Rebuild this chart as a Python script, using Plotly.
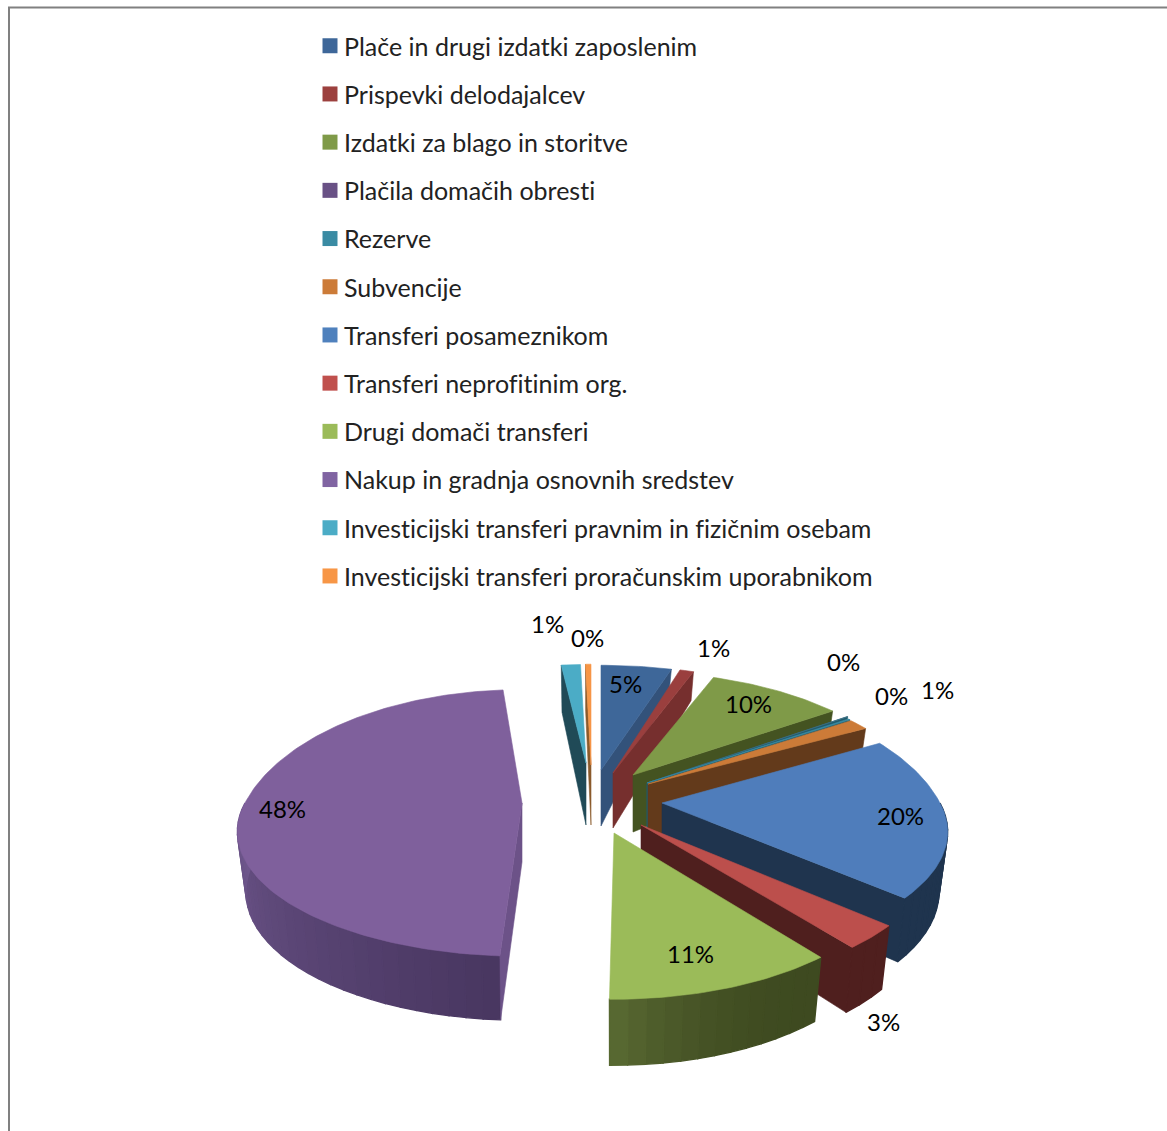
import math
import plotly.graph_objects as go

categories = ["Plače in drugi izdatki zaposlenim", "Prispevki delodajalcev", "Izdatki za blago in storitve",
              "Plačila domačih obresti", "Rezerve", "Subvencije", "Transferi posameznikom",
              "Transferi neprofitinim org.", "Drugi domači transferi", "Nakup in gradnja osnovnih sredstev",
              "Investicijski transferi pravnim in fizičnim osebam", "Investicijski transferi proračunskim uporabnikom"]
values = [4.9, 1.0, 9.6, 0.1, 0.2, 1.4, 19.6, 2.8, 10.6, 48.0, 1.4, 0.4]

swatch = ["#3E6799", "#9C403E", "#7F9A48", "#695185", "#3A8BA3", "#CC7B38",
          "#4F81BD", "#C0504D", "#9BBB59", "#8064A2", "#4BACC6", "#F79646"]
top = ["#3E6799", "#9A3F3E", "#7F9A48", "#3A6F85", "#3A8BA3", "#CC7B38",
       "#4F7DBB", "#BC4F4C", "#9BBB59", "#7F609C", "#4BACC6", "#F79646"]
wall = ["#33527A", "#762F2E", "#445321", "#205A6B", "#205A6B", "#633A1B",
        "#1F344E", "#4F1F1E", "#445321", "#6C5288", "#204A57", "#8B5A2B"]
arc_a = ["#33527A", "#762F2E", "#445321", "#205A6B", "#205A6B", "#633A1B",
         "#1F344E", "#4F1F1E", "#3E4A20", "#483660", "#204A57", "#8B5A2B"]
arc_b = ["#33527A", "#762F2E", "#445321", "#205A6B", "#205A6B", "#633A1B",
         "#1F344E", "#4F1F1E", "#5A6B33", "#70588E", "#204A57", "#8B5A2B"]
arc_pow = [1, 1, 1, 1, 1, 1, 1, 1, 2.5, 1, 1, 1]

# explosion / projection of each slice, in axis units
apex_x = [601, 613, 633, 647, 647, 648, 662, 641, 614, 522, 586, 591]
apex_y = [770, 773, 775, 783, 783, 784, 803, 825, 833, 803, 763, 765]
rx = [292, 278, 278, 278, 278, 278, 278, 284, 278, 277, 278, 278]
ry_back = [133, 136, 131, 137, 133, 133, 143, 130, 131, 144, 125, 128]
ry_front = [125, 125, 125, 125, 125, 125, 119, 126, 128, 118, 125, 125]
d_apex = [56, 55, 57, 57, 57, 57, 57, 57, 57, 59, 62, 60]
d_back = [19, 27, 30, 30, 30, 30, 30, 30, 30, 45, 47, 47]
d_front = [66, 66, 66, 66, 66, 66, 67, 67, 66, 64, 66, 66]
nudge_start = [0, 0, 0, 0, 0, 0, 0, 0, 0, 2.8, 0, 0]
nudge_end = [0, 0, 0, 0, 0, 0, 0, 0, 0, 1.5, 0, 0]
label_x = [625, 713, 748, 843, 891, 937, 900, 883, 690, 282, 547, 587]
label_y = [683, 647, 703, 661, 695, 689, 815, 1021, 953, 808, 623, 637]
draw_order = [10, 11, 0, 1, 2, 3, 4, 5, 6, 7, 8, 9]
FONT = "Lato"


def hex2rgb(c):
    return [int(c[k:k + 2], 16) for k in (1, 3, 5)]


def mix(a, b, f):
    ra, rb = hex2rgb(a), hex2rgb(b)
    return "rgb(%d,%d,%d)" % tuple(round(ra[k] + (rb[k] - ra[k]) * f) for k in range(3))


def rim(i, t):
    sx, cy = math.sin(t), math.cos(t)
    s = 1 / (1 + 0.27 * cy) if cy > 0 else 1 / (1 + 0.23 * cy)
    ry = ry_back[i] if cy > 0 else ry_front[i]
    return apex_x[i] + rx[i] * sx * s, apex_y[i] - ry * cy * s, cy


def drop(i, x, y, cy):
    d = d_apex[i] + (d_back[i] - d_apex[i]) * cy if cy > 0 else d_apex[i] + (d_front[i] - d_apex[i]) * (-cy)
    return apex_x[i] + (x - apex_x[i]) * 0.97, y + d


def poly(fig, xs, ys, color, width=0.6):
    fig.add_trace(go.Scatter(x=xs + xs[:1], y=ys + ys[:1], mode="lines", fill="toself", fillcolor=color,
                             line=dict(color=color, width=width), hoverinfo="skip", showlegend=False))


fig = go.Figure()
total = sum(values)
edges = [0.0]
for v in values:
    edges.append(edges[-1] + v / total * 2 * math.pi)

for i in draw_order:
    t1 = edges[i] + math.radians(nudge_start[i])
    t2 = edges[i + 1] + math.radians(nudge_end[i])
    ax, ay = apex_x[i], apex_y[i]
    bx, by = ax, ay + d_apex[i]
    # outer wall, front part only
    lo, hi = max(t1, math.pi / 2), min(t2, 3 * math.pi / 2)
    if hi > lo:
        n = max(2, int((hi - lo) / 0.05))
        for k in range(n):
            a = lo + (hi - lo) * k / n
            b = lo + (hi - lo) * (k + 1) / n
            xa, ya, ca = rim(i, a)
            xc, yc, cc = rim(i, b)
            xa2, ya2 = drop(i, xa, ya, ca)
            xc2, yc2 = drop(i, xc, yc, cc)
            poly(fig, [xa, xc, xc2, xa2], [ya, yc, yc2, ya2],
                 mix(arc_a[i], arc_b[i], ((k + 0.5) / n) ** arc_pow[i]), 1.4)
    # radial walls that face the viewer
    for t, vis in ((t1, math.sin(t1) < 0), (t2, math.sin(t2) > 0)):
        if vis:
            x, y, c = rim(i, t)
            xb, yb = drop(i, x, y, c)
            poly(fig, [ax, x, xb, bx], [ay, y, yb, by], wall[i])
    # top face
    n = max(3, int((t2 - t1) / 0.02))
    pts = [rim(i, t1 + (t2 - t1) * k / n) for k in range(n + 1)]
    poly(fig, [ax] + [p[0] for p in pts], [ay] + [p[1] for p in pts], top[i])

# legend entries
for i, name in enumerate(categories):
    fig.add_trace(go.Scatter(x=[None], y=[None], mode="markers", name=name, legendgroup=name,
                             marker=dict(symbol="square", size=15, color=swatch[i])))

for i, v in enumerate(values):
    fig.add_annotation(x=label_x[i], y=label_y[i], text=f"{round(v)}%", showarrow=False,
                       font=dict(family=FONT, size=24, color="#000000"))

fig.add_shape(type="line", xref="x", yref="y", x0=9, x1=9, y0=7, y1=1131, line=dict(color="#808080", width=2))
fig.add_shape(type="line", xref="x", yref="y", x0=8, x1=1167, y0=7.5, y1=7.5, line=dict(color="#808080", width=2))

fig.update_layout(
    width=1167, height=1131, margin=dict(l=0, r=0, t=0, b=0),
    paper_bgcolor="white", plot_bgcolor="white",
    xaxis=dict(range=[0, 1167], visible=False, fixedrange=True),
    yaxis=dict(range=[1131, 0], visible=False, fixedrange=True),
    legend=dict(x=304 / 1167, y=1 - 23 / 1131, xanchor="left", yanchor="top", tracegroupgap=12.7,
                itemsizing="trace", bgcolor="rgba(0,0,0,0)", traceorder="grouped",
                font=dict(family=FONT, size=25, color="#222222")),
    showlegend=True,
)
fig.write_html("out.html", config={"displayModeBar": False},
               post_script="document.body.style.margin='0';document.documentElement.style.overflow='hidden';"
                           "var st=document.createElement('style');"
                           "st.textContent='text{font-variant-ligatures:none !important;"
                           "font-feature-settings:\"liga\" 0,\"clig\" 0 !important;letter-spacing:0.001px}"
                           ".legendsymbols{transform:translateX(6px)}';"
                           "document.head.appendChild(st);")
